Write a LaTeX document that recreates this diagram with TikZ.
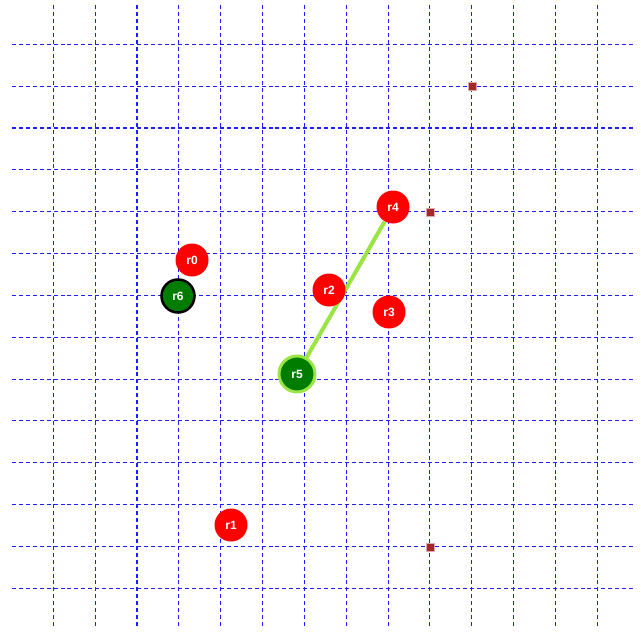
\documentclass[tikz,border=0pt]{standalone}
\usepackage{fontspec}
\newfontfamily\robotfont{Liberation Sans}
\usepackage{xcolor}

\definecolor{gridblue}{RGB}{30,30,255}
\definecolor{robotred}{RGB}{255,0,0}
\definecolor{leadgreen}{RGB}{0,125,0}
\definecolor{pathgreen}{RGB}{155,228,70}
\definecolor{goalbrown}{RGB}{165,40,40}

\tikzset{
  gridline/.style={color=gridblue, line width=0.8pt, dash pattern=on 3pt off 2.2pt},
  robot/.style={circle, fill=robotred, text=white, inner sep=0pt, minimum size=24.75pt,
    font=\robotfont\bfseries\fontsize{9}{10}\selectfont},
  leader/.style={robot, fill=leadgreen, draw=pathgreen, line width=2.25pt, minimum size=27pt},
  parked/.style={robot, fill=leadgreen, draw=black, line width=1.9pt},
  goal/.style={rectangle, fill=goalbrown, draw=goalbrown!40, line width=0.4pt, inner sep=0pt, minimum size=6pt},
  route/.style={color=pathgreen, line width=3pt}
}

\begin{document}
\begin{tikzpicture}[x=0.75pt,y=0.75pt,yscale=-1,xscale=1]
\useasboundingbox (0,0) rectangle (641,631);

%Grid
\foreach \i in {0,...,13} {
  \draw[gridline] ({53.3+41.85*\i},5) -- ({53.3+41.85*\i},627);
  \draw[gridline] (12,{44.3+41.85*\i}) -- (636,{44.3+41.85*\i});
}

%Goals
\node[goal] (g0) at (471.9,86.2) {};
\node[goal] (g1) at (430,212) {};
\node[goal] (g2) at (430,547) {};

%Robots
\node[robot] (r4) at (393,207) {r4};
\node[leader] (r5) at (297,374) {r5};
\draw[route] (r5) -- (r4);
\node[robot] (r0) at (192,260) {r0};
\node[robot] (r1) at (231,525) {r1};
\node[robot] (r2) at (329,290) {r2};
\node[robot] (r3) at (389,312) {r3};
\node[parked] (r6) at (178,296) {r6};

\end{tikzpicture}
\end{document}
